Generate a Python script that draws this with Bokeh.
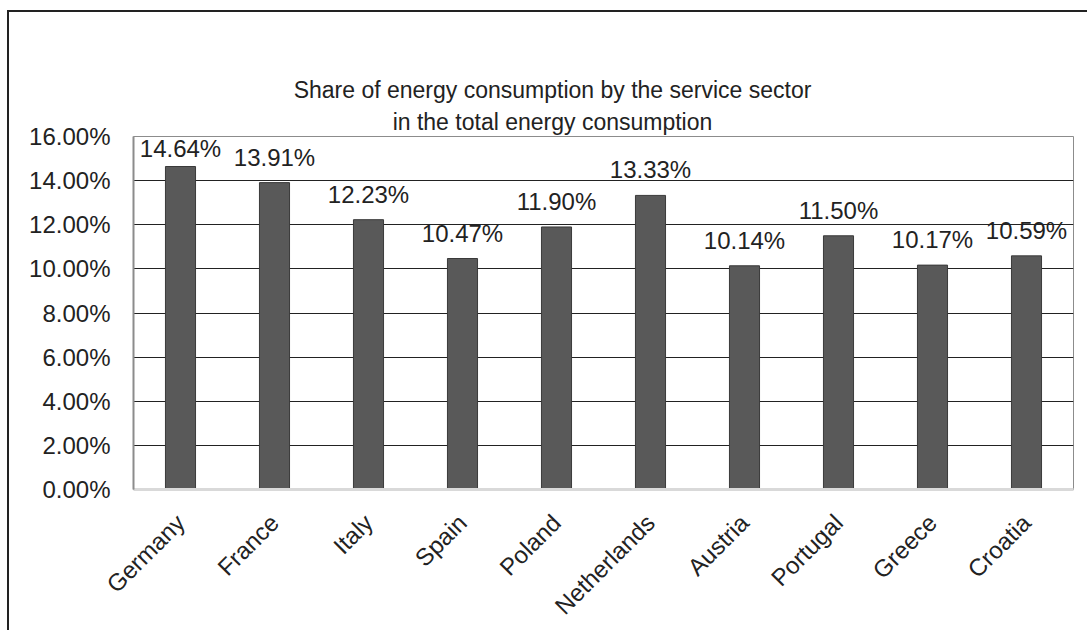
import math
from bokeh.plotting import figure
from bokeh.models import (ColumnDataSource, Range1d, FixedTicker, NumeralTickFormatter,
                          LabelSet, Title)
from bokeh.core.properties import value
from bokeh.embed import file_html
from bokeh.resources import INLINE

countries = ["Germany", "France", "Italy", "Spain", "Poland", "Netherlands",
             "Austria", "Portugal", "Greece", "Croatia"]
shares = [0.1464, 0.1391, 0.1223, 0.1047, 0.1190, 0.1333, 0.1014, 0.1150, 0.1017, 0.1059]
y_ticks = [0.0, 0.02, 0.04, 0.06, 0.08, 0.10, 0.12, 0.14, 0.16]
title_lines = ["Share of energy consumption by the service sector",
               "in the total energy consumption"]

FONT = "Liberation Sans"
TITLE_SIZE = 23
TITLE_EM = [22.51, 13.9]   # Arial/Liberation advance widths of the two lines, in em
TITLE_CENTER = 419          # desired centre, px from the frame's left edge

Y_MAX = 0.16
FRAME_H = 353
LABEL_OFFSET = 17
# keep a data label inside the plot area (as the spreadsheet does)
label_limit = Y_MAX - (LABEL_OFFSET + 20) * Y_MAX / FRAME_H

src = ColumnDataSource(dict(
    country=countries,
    share=shares,
    label_y=[min(v, label_limit) for v in shares],
    label=[f"{v * 100:.2f}%" for v in shares],
))

p = figure(width=1080, height=620, x_range=countries, y_range=Range1d(0, Y_MAX),
           output_backend="svg", toolbar_location=None, tools="",
           min_border_left=124, min_border_right=16, min_border_top=124,
           min_border_bottom=141)
p.styles = {"margin-left": "7px", "margin-top": "10px",
            "border-top": "2px solid #222", "border-left": "2px solid #222"}

p.vbar(x="country", top="share", width=0.32, source=src,
       fill_color="#595959", line_color="#3a3a3a", line_width=1)

# axes
p.yaxis.ticker = FixedTicker(ticks=y_ticks)
p.yaxis.formatter = NumeralTickFormatter(format="0.00%")
p.yaxis.major_label_text_font = FONT
p.yaxis.major_label_text_font_size = "24px"
p.yaxis.major_label_text_color = "#222222"
p.yaxis.major_tick_line_color = None
p.yaxis.minor_tick_line_color = None
p.yaxis.axis_line_color = "#8c8c8c"
p.yaxis.axis_line_width = 2
p.yaxis.major_label_standoff = 17

p.xaxis.major_label_orientation = math.pi / 4
p.xaxis.major_label_text_font = FONT
p.xaxis.major_label_text_font_size = "24px"
p.xaxis.major_label_text_color = "#222222"
p.xaxis.major_tick_line_color = None
p.xaxis.axis_line_color = "#d9d9d9"
p.xaxis.axis_line_width = 3
p.xaxis.major_label_standoff = 23

p.xgrid.grid_line_color = None
p.ygrid.grid_line_color = "#222222"
p.ygrid.grid_line_width = 1
p.x_range.range_padding = 0.0

p.outline_line_color = "#8c8c8c"
p.outline_line_width = 1

labels = LabelSet(x="country", y="label_y", text="label", source=src,
                  text_align="center", text_baseline="alphabetic", y_offset=LABEL_OFFSET,
                  text_font=value(FONT), text_font_size="24px", text_color="#222222")
p.add_layout(labels)

# invisible spacer between the plot area and the title block
p.add_layout(Title(text=".", standoff=9, text_alpha=0.0, text_font=FONT,
                   text_font_size=f"{TITLE_SIZE}px"), "above")

# two title lines, stacked outward from the frame (second line first)
for txt, em in [(title_lines[1], TITLE_EM[1]), (title_lines[0], TITLE_EM[0])]:
    off = TITLE_CENTER - em * TITLE_SIZE / 2
    p.add_layout(Title(text=txt, align="left", offset=off, standoff=4,
                       text_font=FONT, text_font_size=f"{TITLE_SIZE}px",
                       text_font_style="normal", text_color="#222222"), "above")

open("out.html", "w").write(file_html(p, INLINE))
